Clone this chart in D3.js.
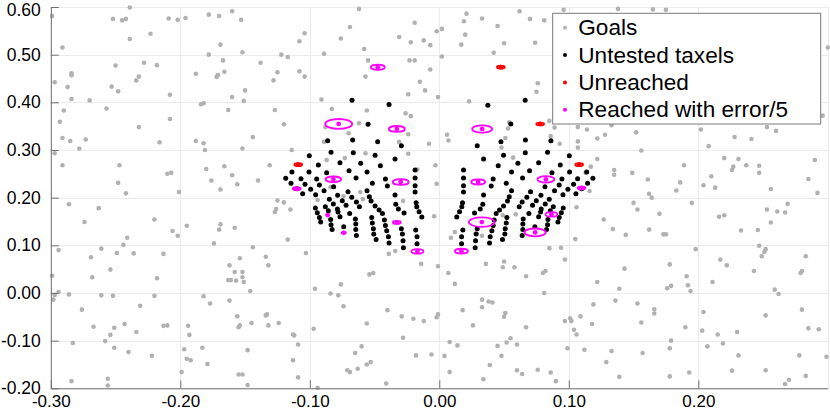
<!DOCTYPE html>
<html><head><meta charset="utf-8">
<script src="https://cdn.jsdelivr.net/npm/d3@7"></script>
<style>body{margin:0;background:#fff}svg{display:block}text{font-family:"Liberation Sans",Arial,sans-serif}</style>
</head><body><svg id="c" width="830" height="412"></svg>
<script>
const xTicks=[-0.30,-0.20,-0.10,0.00,0.10,0.20];
const xGrid=[-0.30,-0.20,-0.10,0.00,0.10,0.20,0.30];
const yTicks=[-0.20,-0.10,0.00,0.10,0.20,0.30,0.40,0.50,0.60];
const legendLabels=["Goals","Untested taxels","Unreached","Reached with error/5"];
const goals=[
[-0.299,0.581],[-0.252,0.575],[-0.245,0.572],[-0.242,0.575],[-0.239,0.599],[-0.209,0.576],[-0.202,0.573],[-0.196,0.577],[-0.178,0.584],[-0.170,0.581],[-0.160,0.591],[-0.153,0.573],[-0.291,0.515],[-0.239,0.533],[-0.223,0.544],[-0.169,0.521],[-0.152,0.505],[-0.178,0.500],[-0.167,0.488],[-0.108,0.528],[-0.104,0.545],[-0.122,0.500],[-0.117,0.495],[-0.138,0.483],[-0.297,0.442],[-0.284,0.461],[-0.284,0.457],[-0.287,0.432],[-0.284,0.407],[-0.270,0.404],[-0.250,0.477],[-0.228,0.483],[-0.218,0.478],[-0.232,0.454],[-0.234,0.446],[-0.253,0.433],[-0.248,0.423],[-0.208,0.416],[-0.188,0.460],[-0.172,0.453],[-0.171,0.457],[-0.166,0.464],[-0.150,0.425],[-0.160,0.411],[-0.151,0.403],[-0.125,0.463],[-0.128,0.446],[-0.108,0.465],[-0.104,0.454],[-0.290,0.383],[-0.293,0.359],[-0.257,0.387],[-0.232,0.348],[-0.208,0.365],[-0.184,0.396],[-0.182,0.398],[-0.163,0.384],[-0.127,0.384],[-0.120,0.354],[-0.291,0.325],[-0.285,0.319],[-0.273,0.322],[-0.278,0.303],[-0.297,0.293],[-0.216,0.316],[-0.188,0.319],[-0.182,0.314],[-0.181,0.300],[-0.152,0.303],[-0.144,0.327],[-0.114,0.300],[-0.291,0.268],[-0.247,0.268],[-0.210,0.250],[-0.207,0.252],[-0.180,0.260],[-0.166,0.266],[-0.160,0.247],[-0.176,0.236],[-0.156,0.228],[-0.140,0.236],[-0.131,0.268],[-0.248,0.231],[-0.242,0.209],[-0.201,0.212],[-0.169,0.217],[-0.125,0.194],[-0.120,0.190],[-0.286,0.186],
[-0.263,0.178],[-0.274,0.149],[-0.220,0.154],[-0.206,0.130],[-0.202,0.120],[-0.195,0.141],[-0.169,0.144],[-0.170,0.133],[-0.158,0.137],[-0.126,0.176],[-0.127,0.170],[-0.115,0.175],[-0.117,0.112],[-0.241,0.116],[-0.244,0.101],[-0.294,0.090],[-0.261,0.093],[-0.249,0.084],[-0.236,0.083],[-0.213,0.082],[-0.269,0.075],[-0.174,0.104],[-0.144,0.096],[-0.134,0.076],[-0.132,0.058],[-0.154,0.073],[-0.162,0.058],[-0.158,0.044],[-0.152,0.044],[-0.163,0.027],[-0.161,0.027],[-0.157,0.026],[-0.152,0.033],[-0.151,0.023],[-0.146,0.004],[-0.254,0.049],[-0.268,0.033],[-0.218,0.031],[-0.299,0.036],[-0.294,0.002],[-0.297,-0.004],[-0.298,-0.014],[-0.286,-0.003],[-0.261,-0.005],[-0.252,-0.006],[-0.220,-0.006],[-0.182,-0.007],[-0.177,-0.022],[-0.162,-0.016],[-0.276,-0.035],[-0.231,-0.027],[-0.267,-0.071],[-0.243,-0.065],[-0.251,-0.073],[-0.234,-0.082],[-0.254,-0.088],[-0.213,-0.069],[-0.210,-0.068],[-0.194,-0.069],[-0.193,-0.088],[-0.156,-0.049],[-0.155,-0.072],[-0.154,-0.068],[-0.145,-0.063],[-0.134,-0.047],[-0.133,-0.045],[-0.132,-0.068],[-0.124,-0.063],[-0.113,-0.087],[-0.112,-0.089],[-0.109,-0.108],[-0.283,-0.105],[-0.258,-0.101],[-0.251,-0.115],[-0.240,-0.124],[-0.222,-0.132],[-0.197,-0.118],[-0.195,-0.138],[-0.192,-0.141],[-0.183,-0.115],[-0.179,-0.149],[-0.148,-0.120],[-0.113,-0.141],[-0.199,-0.166],[-0.155,-0.171],[-0.152,-0.171],[-0.148,-0.193],[-0.109,-0.177],[-0.284,-0.185],[-0.256,-0.180],[-0.256,-0.194],
[-0.062,0.596],[-0.069,0.558],[-0.076,0.534],[-0.058,0.512],[-0.089,0.502],[-0.031,0.537],[-0.022,0.526],[-0.019,0.567],[-0.012,0.530],[-0.007,0.520],[-0.002,0.549],[0.002,0.554],[0.002,0.496],[-0.023,0.488],[-0.019,0.488],[-0.007,0.469],[-0.055,0.488],[-0.057,0.454],[-0.015,0.443],[-0.011,0.425],[-0.024,0.417],[-0.001,0.411],[-0.091,0.406],[-0.083,0.386],[-0.056,0.383],[-0.026,0.377],[-0.022,0.371],[-0.062,0.356],[-0.070,0.335],[-0.089,0.317],[-0.031,0.317],[-0.008,0.313],[-0.024,0.292],[-0.057,0.293],[-0.087,0.279],[-0.073,0.283],[-0.003,0.268],[-0.002,0.229],[-0.061,0.212],[-0.074,0.203],
[0.021,0.586],[0.019,0.570],[0.033,0.576],[0.020,0.542],[0.017,0.521],[0.045,0.560],[0.050,0.524],[0.042,0.504],[0.062,0.591],[0.070,0.575],[0.081,0.572],[0.074,0.525],[0.096,0.594],[0.076,0.440],[0.075,0.422],[0.023,0.402],[0.006,0.332],[0.007,0.320],[0.054,0.358],[0.053,0.345],[0.051,0.325],[0.048,0.305],[0.085,0.361],[0.089,0.347],[0.086,0.329],[0.093,0.313],[0.070,0.212],
[-0.088,0.348],[-0.024,0.333],[-0.017,0.259],[-0.059,0.197],[-0.084,0.222],[-0.028,0.193],[-0.094,0.195],[0.057,0.284],
[0.138,0.596],[0.165,0.595],[0.175,0.594],[0.300,0.515],[0.107,0.348],[0.114,0.343],[0.128,0.332],[0.122,0.324],[0.107,0.318],[0.107,0.305],[0.152,0.337],[0.156,0.299],[0.133,0.352],[0.202,0.343],[0.228,0.327],[0.241,0.323],[0.253,0.348],[0.260,0.340],[0.296,0.372],[0.208,0.308],[0.122,0.281],[0.117,0.265],[0.135,0.258],[0.135,0.248],[0.149,0.252],[0.189,0.268],[0.220,0.283],[0.231,0.281],[0.227,0.265],[0.226,0.258],[0.237,0.268],[0.247,0.267],[0.247,0.252],[0.290,0.279],[0.285,0.239],[0.292,0.210],[0.161,0.238],[0.186,0.232],[0.183,0.215],[0.162,0.208],[0.164,0.200],[0.204,0.226],[0.210,0.245],[0.213,0.221],[0.256,0.218],[0.116,0.214],[0.113,0.252],[0.150,0.189],[0.195,0.189],[0.269,0.187],
[0.106,0.180],[0.153,0.175],[0.170,0.166],[0.127,0.154],[0.134,0.134],[0.144,0.122],[0.162,0.133],[0.173,0.123],[0.175,0.123],[0.105,0.113],[0.094,0.095],[0.097,0.070],[0.198,0.092],[0.122,0.023],[0.143,0.051],[0.139,0.009],[0.178,0.060],[0.176,0.010],[0.179,0.015],[0.191,0.035],[0.192,0.016],[0.194,0.004],[0.216,0.160],[0.220,0.163],[0.233,0.131],[0.246,0.132],[0.253,0.175],[0.261,0.171],[0.267,0.169],[0.256,0.148],[0.247,0.099],[0.252,0.092],[0.251,0.086],[0.249,0.077],[0.283,0.077],[0.217,0.070],[0.222,0.058],[0.243,0.046],[0.280,0.046],[0.279,0.042],[0.211,0.023],[0.259,0.007],[0.262,-0.002],[0.119,-0.024],[0.136,-0.016],[0.153,-0.022],[0.166,-0.034],[0.166,-0.043],[0.156,-0.062],[0.097,-0.059],[0.101,-0.053],[0.102,-0.059],[0.109,-0.049],[0.104,-0.077],[0.106,-0.087],[0.118,-0.065],[0.204,-0.040],[0.203,-0.079],[0.190,-0.072],[0.179,-0.100],[0.178,-0.116],[0.099,-0.116],[0.112,-0.119],[0.133,-0.122],[0.129,-0.145],[0.157,-0.126],[0.139,-0.176],[0.178,-0.175],[0.193,-0.167],[0.215,-0.087],[0.219,-0.106],[0.230,-0.082],[0.207,-0.112],[0.231,-0.131],[0.252,-0.047],[0.280,-0.035],[0.285,-0.074],[0.293,-0.076],[0.278,-0.131],[0.299,-0.134],[0.226,-0.163],[0.252,-0.162],[0.283,-0.174],[0.270,-0.182],[0.267,-0.191],
[-0.004,0.161],[-0.103,0.084],[-0.039,0.082],[-0.034,0.088],[-0.014,0.061],[-0.001,0.056],[-0.054,0.039],[-0.051,0.042],[-0.076,0.018],[-0.096,0.009],[-0.084,-0.001],[-0.078,-0.005],[-0.074,-0.028],[-0.040,-0.036],[-0.029,-0.049],[-0.020,-0.054],[-0.012,-0.059],[-0.002,-0.051],[-0.001,-0.045],[-0.097,-0.075],[-0.056,-0.064],[-0.028,-0.094],[-0.060,-0.112],[-0.065,-0.126],[-0.018,-0.131],[-0.006,-0.129],[-0.071,-0.162],[-0.069,-0.166],[-0.063,-0.159],[-0.056,-0.150],[-0.053,-0.145],[-0.041,-0.190],[-0.094,-0.199],
[0.012,0.128],[0.009,0.116],[0.007,0.042],[0.012,0.019],[0.018,-0.036],[0.026,-0.068],[0.033,-0.014],[0.033,-0.030],[0.038,-0.018],[0.041,-0.020],[0.036,0.061],[0.050,0.066],[0.049,0.054],[0.058,0.054],[0.067,0.035],[0.080,0.042],[0.082,0.046],[0.085,0.094],[0.081,0.000],[0.051,-0.042],[0.050,-0.050],[0.067,-0.072],[0.008,-0.103],[0.014,-0.110],[0.004,-0.132],[0.008,-0.166],[0.045,-0.111],[0.052,-0.104],[0.055,-0.095],[0.060,-0.108],[0.048,-0.132],[0.039,-0.151],[0.034,-0.181],[0.060,-0.162],[0.064,-0.170],[0.076,-0.161],[0.086,-0.167],[0.090,-0.185],[0.049,0.163],[0.059,0.165],[0.028,0.124],[0.033,0.120]
];
const untestedLeft=[
[-0.0674,0.4043],[-0.0388,0.3952],[-0.0550,0.3539],
[-0.0862,0.3196],[-0.0669,0.3210],[-0.0476,0.3175],[-0.0293,0.3091],
[-0.1004,0.2881],[-0.0836,0.2951],[-0.0664,0.2944],[-0.0496,0.2888],[-0.0342,0.2811],
[-0.0934,0.2685],[-0.0767,0.2734],[-0.0607,0.2720],[-0.0455,0.2671],
[-0.1138,0.2538],[-0.1006,0.2538],[-0.0870,0.2524],[-0.0697,0.2566],[-0.0558,0.2538],[-0.0187,0.2580],
[-0.1186,0.2405],[-0.1068,0.2398],[-0.0947,0.2391],[-0.0643,0.2412],[-0.0416,0.2391],[-0.0187,0.2412],
[-0.1145,0.2300],[-0.1037,0.2279],[-0.0926,0.2265],[-0.0816,0.2230],[-0.0517,0.2300],[-0.0401,0.2244],[-0.0187,0.2251],
[-0.1099,0.2188],[-0.0993,0.2174],[-0.0890,0.2146],[-0.0705,0.2125],[-0.0558,0.2146],[-0.0187,0.2118],
[-0.1055,0.2083],[-0.0955,0.2062],[-0.0785,0.2048],[-0.0676,0.2006],[-0.0540,0.2020],[-0.0342,0.2055],
[-0.0849,0.1964],[-0.0749,0.1936],[-0.0640,0.1908],[-0.0527,0.1929],[-0.0179,0.1894],
[-0.0818,0.1866],[-0.0720,0.1838],[-0.0617,0.1810],[-0.0496,0.1824],[-0.0336,0.1859],[-0.0174,0.1810],
[-0.0957,0.1782],[-0.0880,0.1810],[-0.0787,0.1761],[-0.0465,0.1739],[-0.0316,0.1761],[-0.0156,0.1704],
[-0.0942,0.1683],[-0.0857,0.1725],[-0.0782,0.1697],[-0.0692,0.1669],[-0.0439,0.1669],[-0.0272,0.1676],[-0.0135,0.1592],
[-0.0926,0.1585],[-0.0839,0.1543],[-0.0767,0.1599],[-0.0648,0.1550],[-0.0522,0.1585],[-0.0424,0.1529],
[-0.0916,0.1487],[-0.0836,0.1431],[-0.0738,0.1389],[-0.0645,0.1445],[-0.0517,0.1466],[-0.0416,0.1417],[-0.0293,0.1347],[-0.0182,0.1319],
[-0.0828,0.1333],[-0.0645,0.1333],[-0.0509,0.1347],[-0.0406,0.1305],[-0.0285,0.1235],
[-0.0640,0.1207],[-0.0506,0.1235],[-0.0393,0.1179],[-0.0280,0.1095],[-0.0172,0.1179],
[-0.0488,0.1123],[-0.0388,0.1046],[-0.0277,0.0948],[-0.0172,0.1032]
];
const untestedRight=[
[0.0663,0.4044],[0.0375,0.3939],[0.0552,0.3546],
[0.0862,0.3196],[0.0665,0.3210],[0.0476,0.3175],[0.0293,0.3091],
[0.1004,0.2881],[0.0836,0.2951],[0.0664,0.2944],[0.0496,0.2888],[0.0342,0.2811],
[0.0934,0.2685],[0.0767,0.2734],[0.0607,0.2720],[0.0455,0.2671],
[0.1138,0.2538],[0.1006,0.2538],[0.0870,0.2524],[0.0697,0.2566],[0.0558,0.2538],[0.0187,0.2580],
[0.1186,0.2405],[0.1068,0.2398],[0.0947,0.2391],[0.0643,0.2412],[0.0416,0.2391],[0.0187,0.2412],
[0.1145,0.2300],[0.1037,0.2279],[0.0926,0.2265],[0.0816,0.2230],[0.0517,0.2300],[0.0401,0.2244],[0.0187,0.2251],
[0.1099,0.2188],[0.0993,0.2174],[0.0890,0.2146],[0.0705,0.2125],[0.0558,0.2146],[0.0187,0.2118],
[0.1055,0.2083],[0.0955,0.2062],[0.0785,0.2048],[0.0676,0.2006],[0.0540,0.2020],[0.0342,0.2055],
[0.0849,0.1964],[0.0749,0.1936],[0.0640,0.1908],[0.0527,0.1929],[0.0179,0.1894],
[0.0818,0.1866],[0.0720,0.1838],[0.0617,0.1810],[0.0496,0.1824],[0.0336,0.1859],[0.0174,0.1810],
[0.0957,0.1782],[0.0880,0.1810],[0.0787,0.1761],[0.0465,0.1739],[0.0316,0.1761],[0.0156,0.1704],
[0.0942,0.1683],[0.0857,0.1725],[0.0782,0.1697],[0.0692,0.1669],[0.0439,0.1669],[0.0272,0.1676],[0.0135,0.1592],
[0.0926,0.1585],[0.0839,0.1543],[0.0767,0.1599],[0.0648,0.1550],[0.0522,0.1585],[0.0424,0.1529],
[0.0916,0.1487],[0.0836,0.1431],[0.0738,0.1389],[0.0645,0.1445],[0.0517,0.1466],[0.0416,0.1417],[0.0293,0.1347],[0.0182,0.1319],
[0.0828,0.1333],[0.0645,0.1333],[0.0509,0.1347],[0.0406,0.1305],[0.0285,0.1235],
[0.0640,0.1207],[0.0506,0.1235],[0.0393,0.1179],[0.0280,0.1095],[0.0172,0.1179],
[0.0488,0.1123],[0.0388,0.1046],[0.0277,0.0948],[0.0172,0.1032]
];
// [x, y, error/5 radius]
const unreached=[[-0.1089,0.2692,0.0030],[0.0475,0.4737,0.0030],[0.0779,0.3546,0.0030],[0.1080,0.2692,0.0030]];
const reached=[
[-0.0475,0.4737,0.0054],[-0.0777,0.3546,0.0104],[-0.0328,0.3441,0.0062],[-0.0818,0.2384,0.0060],[-0.0298,0.2328,0.0062],
[-0.1101,0.2188,0.0030],[-0.0862,0.1634,0.0012],[-0.0328,0.1481,0.0030],[-0.0738,0.1263,0.0016],[-0.0169,0.0872,0.0046],
[0.0331,0.3441,0.0077],[0.0300,0.2328,0.0054],[0.0823,0.2384,0.0066],[0.1098,0.2202,0.0030],[0.0866,0.1649,0.0046],
[0.0328,0.1487,0.0100],[0.0740,0.1271,0.0082],[0.0171,0.0878,0.0050]
];

const svg=d3.select("#c");
const x=d3.scaleLinear().domain([-0.30,0.30]).range([50.8,827.8]);
const y=d3.scaleLinear().domain([-0.20,0.60]).range([388.3,7]);
const fmt=d=>(Math.abs(d)<1e-9?0:d).toFixed(2);

const grid=svg.append("g").attr("stroke","#ebebeb").attr("stroke-width",1);
grid.selectAll("line.v").data(xGrid).join("line").attr("class","v")
 .attr("x1",d=>Math.round(x(d))+0.5).attr("x2",d=>Math.round(x(d))+0.5).attr("y1",y(0.60)).attr("y2",y(-0.20));
grid.selectAll("line.h").data(yTicks).join("line").attr("class","h")
 .attr("y1",d=>Math.round(y(d))+0.5).attr("y2",d=>Math.round(y(d))+0.5).attr("x1",x(-0.30)).attr("x2",x(0.30));

const dot=(g,data,color,r)=>g.selectAll("circle").data(data).join("circle")
 .attr("cx",d=>x(d[0])).attr("cy",d=>y(d[1])).attr("r",r).attr("fill",color);

dot(svg.append("g"),goals,"#b1b1b1",2.3);
dot(svg.append("g"),untestedLeft.concat(untestedRight),"#000",2.5);

function errMarks(data,color){
 const g=svg.append("g");
 g.selectAll("ellipse").data(data).join("ellipse")
  .attr("cx",d=>x(d[0])).attr("cy",d=>y(d[1]))
  .attr("rx",d=>x(d[0]+d[2])-x(d[0])).attr("ry",d=>y(d[1])-y(d[1]+d[2]))
  .attr("fill","none").attr("stroke",color).attr("stroke-width",1.8);
 g.selectAll("circle").data(data).join("circle")
  .attr("cx",d=>x(d[0])).attr("cy",d=>y(d[1])).attr("r",2.4).attr("fill",color);
}
errMarks(unreached,"#ff0000");
errMarks(reached,"#ff00ff");

const axCol="#6e6e6e";
const gx=svg.append("g").attr("transform",`translate(0,${y(-0.20)})`)
 .call(d3.axisBottom(x).tickValues(xTicks).tickFormat(fmt).tickSizeInner(-8).tickSizeOuter(0).tickPadding(7));
const gy=svg.append("g").attr("transform",`translate(${x(-0.30)},0)`)
 .call(d3.axisLeft(y).tickValues(yTicks).tickFormat(fmt).tickSizeInner(-8).tickSizeOuter(0).tickPadding(10));
[gx,gy].forEach(g=>{
 g.selectAll("path,line").attr("stroke",axCol);
 g.selectAll("text").attr("fill","#000").style("font-family",'"Liberation Sans",Arial,sans-serif');
});
gy.selectAll("text").style("font-size","17.5px");
gy.selectAll(".tick").filter(d=>d===0.60).select("text").attr("dy","0.5em");
gx.selectAll("text").style("font-size","17px");

// legend
const lg=svg.append("g");
lg.append("rect").attr("x",552.7).attr("y",13.3).attr("width",268).attr("height",110.7)
 .attr("fill","#fff").attr("stroke","#7a7a7a").attr("stroke-width",1);
const lcol=["#b1b1b1","#000","#ff0000","#ff00ff"];
legendLabels.forEach((t,i)=>{
 const by=35.3+i*27.35;
 lg.append("circle").attr("cx",565).attr("cy",by-7.6).attr("r",2).attr("fill",lcol[i]);
 lg.append("text").attr("x",578.3).attr("y",by).attr("fill","#000").style("font-size","22.6px").text(t);
});
</script></body></html>
